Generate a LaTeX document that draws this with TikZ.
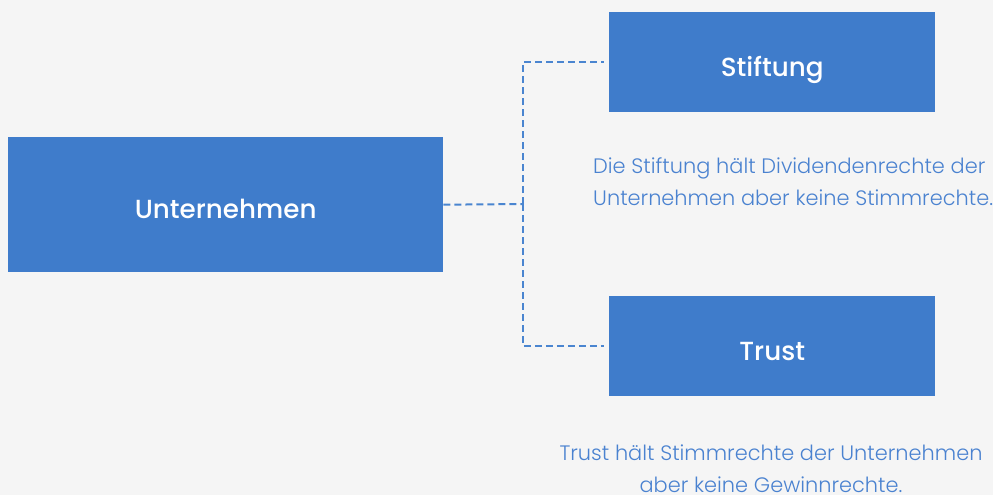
\documentclass[tikz,border=0pt]{standalone}
\usepackage{fontspec}
\setmainfont{Poppins}
\newfontfamily\lightfont{Poppins}[UprightFont=* Light]
\newfontfamily\medfont{Poppins}[UprightFont=* Medium]
\definecolor{bg}{HTML}{F5F5F5}
\definecolor{boxblue}{HTML}{3F7CCB}
\definecolor{lineblue}{HTML}{4A85D0}
\definecolor{txtblue}{HTML}{4A82D0}
\begin{document}
\begin{tikzpicture}[x=1pt,y=-1pt,
  box/.style={fill=boxblue,draw=none,text=white,font=\medfont\fontsize{26.2}{30}\selectfont,inner sep=0pt,anchor=north west,text height=28pt,text depth=0pt},
  desc/.style={text=txtblue,font=\lightfont\fontsize{20.9}{32}\selectfont,inner sep=0pt},
  conn/.style={lineblue,line width=2pt,dash pattern=on 7pt off 4pt}]
\fill[bg] (0,0) rectangle (993,495);
\useasboundingbox (0,0) rectangle (993,495);
\node[box,minimum width=435pt,minimum height=135pt] (u) at (8,137) {Unternehmen};
\node[box,minimum width=326pt,minimum height=100pt] (s) at (609,12) {Stiftung};
\node[box,minimum width=326pt,minimum height=100pt] (t) at (609,296) {Trust};
\node[desc,align=left,anchor=north west] (sd) at (593,157.5) {Die Stiftung hält Dividendenrechte der\\Unternehmen aber keine Stimmrechte.};
\node[desc,align=center,anchor=north] (td) at (771,444.5) {Trust hält Stimmrechte der Unternehmen\\aber keine Gewinnrechte.};
\coordinate (j) at (523,204);
\draw[conn] (u.east) -- (j);
\draw[conn,shorten >=5pt] (j) |- (s.west);
\draw[conn,shorten >=5pt] (j) |- (t.west);
\end{tikzpicture}
\end{document}
